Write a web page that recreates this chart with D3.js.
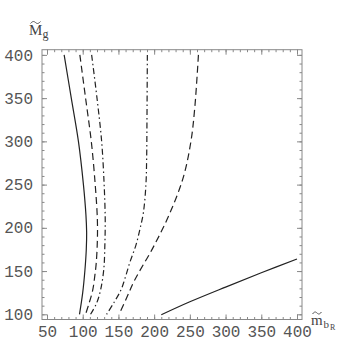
<!DOCTYPE html>
<html>
<head>
<meta charset="utf-8">
<script src="https://cdn.jsdelivr.net/npm/d3@7"></script>
<style>
  body { margin: 0; background: #fff; }
  .tick text { font-family: "Liberation Mono", monospace; font-size: 16px; fill: #555; }
  .tick line { stroke: #888; }
  .curve { fill: none; stroke: #222; stroke-width: 1.2; }
</style>
</head>
<body>
<script>
// Tick values
const majorTicks = [50, 100, 150, 200, 250, 300, 350, 400];
const yMajorTicks = [100, 150, 200, 250, 300, 350, 400];

// Contour curves, [m_bR, M_g]
const solidLeft = [[74,400],[84,350],[94,300],[101,250],[104.5,215],[105.5,195],[105,175],[103,150],[100,125],[95.5,100]];
const dashedInner = [[96,400],[104,350],[112,300],[117.5,250],[120.5,210],[120.5,185],[119,160],[117,145],[114,128],[109,113],[104,100]];
const dashDotInner = [[112.5,400],[120,350],[126.5,300],[130,250],[131.5,210],[131,180],[129.5,152],[125,128],[119.5,113],[111,100]];
const dashDotOuter = [[190.5,400],[190,330],[189.5,280],[188.5,250],[185,218],[180,198],[174.5,180],[166,160],[159,141],[153.5,128],[144,114],[133.5,100]];
const dashedOuter = [[262,400],[257,340],[251.5,300],[241,259],[222,217],[199,178],[173,140],[162,120],[151,100]];
const solidRight = [[210,99.5],[250,114.5],[300,131.5],[350,148],[400,164]];

const curves = [
  { pts: solidLeft, dash: null },
  { pts: dashedInner, dash: "7,4" },
  { pts: dashDotInner, dash: "6,3,1.5,3" },
  { pts: dashDotOuter, dash: "6,3,1.5,3" },
  { pts: dashedOuter, dash: "7,4" },
  { pts: solidRight, dash: null }
];

const W = 346, H = 359;
const svg = d3.select("body").append("svg").attr("width", W).attr("height", H);

const x = d3.scaleLinear().domain([43, 407]).range([42, 302]);
const y = d3.scaleLinear().domain([94, 406]).range([319.5, 49.7]);

const minorX = d3.range(50, 401, 10);
const minorY = d3.range(100, 401, 10);

// minor ticks, all four sides
svg.append("g").attr("transform", `translate(0,${y.range()[0]})`)
  .call(d3.axisBottom(x).tickValues(minorX).tickSize(-2.5).tickFormat(""));
svg.append("g").attr("transform", `translate(0,${y.range()[1]})`)
  .call(d3.axisTop(x).tickValues(minorX).tickSize(-2.5).tickFormat(""));
svg.append("g").attr("transform", `translate(${x.range()[0]},0)`)
  .call(d3.axisLeft(y).tickValues(minorY).tickSize(-2.5).tickFormat(""));
svg.append("g").attr("transform", `translate(${x.range()[1]},0)`)
  .call(d3.axisRight(y).tickValues(minorY).tickSize(-2.5).tickFormat(""));

// major ticks with labels
svg.append("g").attr("transform", `translate(0,${y.range()[0]})`)
  .call(d3.axisBottom(x).tickValues(majorTicks).tickSize(-5).tickPadding(6));
svg.append("g").attr("transform", `translate(0,${y.range()[1]})`)
  .call(d3.axisTop(x).tickValues(majorTicks).tickSize(-5).tickFormat(""));
svg.append("g").attr("transform", `translate(${x.range()[0]},0)`)
  .call(d3.axisLeft(y).tickValues(yMajorTicks).tickSize(-5).tickPadding(9));
svg.append("g").attr("transform", `translate(${x.range()[1]},0)`)
  .call(d3.axisRight(y).tickValues(yMajorTicks).tickSize(-5).tickFormat(""));

svg.selectAll(".domain").remove();

// frame
svg.append("rect")
  .attr("x", x.range()[0]).attr("y", y.range()[1])
  .attr("width", x.range()[1] - x.range()[0])
  .attr("height", y.range()[0] - y.range()[1])
  .attr("fill", "none").attr("stroke", "#888").attr("stroke-width", 1);

const line = d3.line()
  .x(d => x(d[0]))
  .y(d => y(d[1]))
  .curve(d3.curveCatmullRom);

svg.selectAll(".curve")
  .data(curves)
  .enter()
  .append("path")
  .attr("class", "curve")
  .attr("d", d => line(d.pts))
  .attr("stroke-dasharray", d => d.dash);

// axis labels
const lab = svg.append("g").attr("font-family", "Liberation Serif, serif").attr("fill", "#444");
lab.append("text").attr("x", 29).attr("y", 35).attr("font-size", 15).text("M");
lab.append("text").attr("x", 42.5).attr("y", 38).attr("font-size", 12).text("g");

lab.append("text").attr("x", 311).attr("y", 325).attr("font-size", 15).text("m");
lab.append("text").attr("x", 323.5).attr("y", 328).attr("font-size", 11).text("b");
lab.append("text").attr("x", 330).attr("y", 330).attr("font-size", 8).text("R");

// tildes over M and m
function tilde(cx, cy, w) {
  const p = d3.path();
  p.moveTo(cx - w / 2, cy + 1);
  p.bezierCurveTo(cx - w / 4, cy - 2, cx - w / 8, cy - 1, cx, cy);
  p.bezierCurveTo(cx + w / 8, cy + 1, cx + w / 4, cy + 2, cx + w / 2, cy - 1);
  svg.append("path").attr("d", p.toString())
    .attr("fill", "none").attr("stroke", "#444").attr("stroke-width", 0.9);
}
tilde(35.5, 22.5, 10);
tilde(317, 313, 9);
</script>
</body>
</html>
